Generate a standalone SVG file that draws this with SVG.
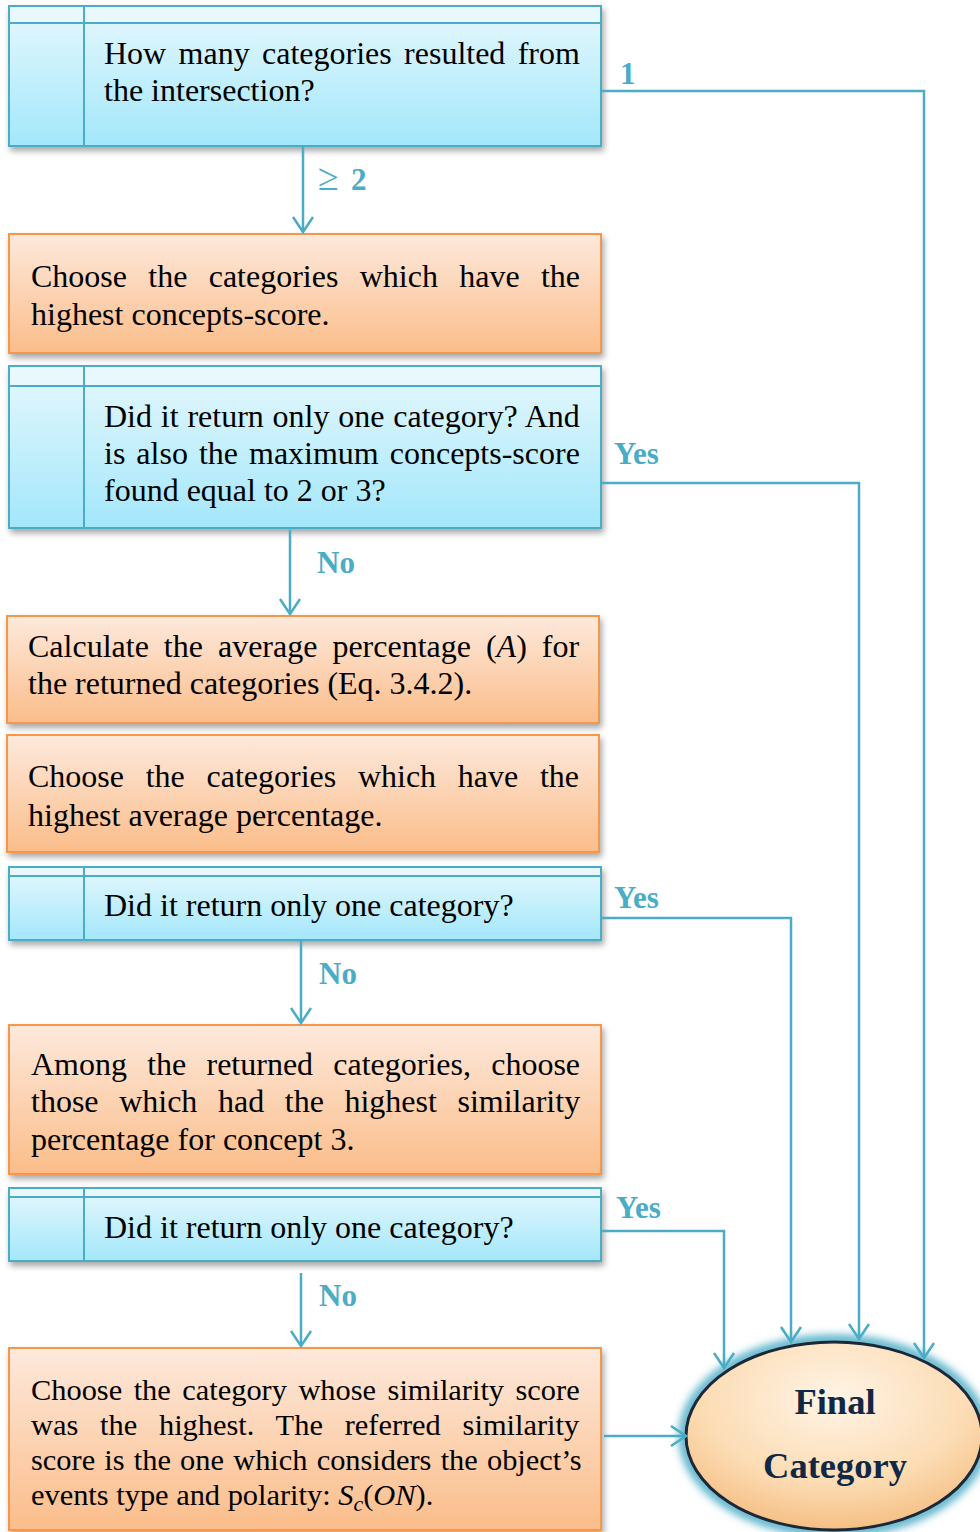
<svg xmlns="http://www.w3.org/2000/svg" width="980" height="1532" viewBox="0 0 980 1532">
  <defs>
    <linearGradient id="gBlue" x1="0" y1="0" x2="0" y2="1">
      <stop offset="0" stop-color="#e6f8fd"/>
      <stop offset="1" stop-color="#a3e7fb"/>
    </linearGradient>
    <linearGradient id="gOrange" x1="0" y1="0" x2="0" y2="1">
      <stop offset="0" stop-color="#fde9dc"/>
      <stop offset="1" stop-color="#fbbd8a"/>
    </linearGradient>
    <radialGradient id="gOval" cx="0.5" cy="0.3" r="0.75">
      <stop offset="0" stop-color="#fff4e6"/>
      <stop offset="0.6" stop-color="#fcdcb4"/>
      <stop offset="1" stop-color="#f4b97a"/>
    </radialGradient>
    <filter id="shadow" x="-5%" y="-10%" width="112%" height="130%">
      <feDropShadow dx="2" dy="4" stdDeviation="3" flood-color="#000" flood-opacity="0.35"/>
    </filter>
    <filter id="glow" x="-20%" y="-20%" width="140%" height="140%">
      <feGaussianBlur stdDeviation="4"/>
    </filter>
    <!-- open V arrowhead, tip along the path direction -->
    <marker id="arrow" viewBox="0 0 20 24" refX="18" refY="12" markerWidth="20" markerHeight="24" markerUnits="userSpaceOnUse" orient="auto">
      <path d="M3 2 L18 12 L3 22" fill="none" stroke="#4bacc6" stroke-width="2.5"/>
    </marker>
    <style>
      .blue { fill: url(#gBlue); stroke: #4bacc6; stroke-width: 2; filter: url(#shadow); }
      .orange { fill: url(#gOrange); stroke: #f79646; stroke-width: 2; filter: url(#shadow); }
      .div { stroke: #4bacc6; stroke-width: 2; fill: none; }
      .band { fill: #e8f8fd; }
      .t { font-family: "Liberation Serif", "Times New Roman", serif; font-size: 32px; fill: #000; }
      .tE { font-family: "Liberation Serif", "Times New Roman", serif; font-size: 30.4px; fill: #000; }
      .lab { font-family: "Liberation Serif", "Times New Roman", serif; font-size: 31px; font-weight: bold; fill: #4bacc6; }
      .conn { fill: none; stroke: #4bacc6; stroke-width: 2.5; }
      .oval { font-family: "Liberation Serif", "Times New Roman", serif; font-size: 36.5px; font-weight: bold; fill: #112844; text-anchor: middle; }
    </style>
  </defs>

  <rect width="980" height="1532" fill="#ffffff"/>

  <!-- Decision: number of categories -->
  <g id="q-count">
    <rect class="blue" x="9" y="6" width="592" height="140"/>
    <rect class="band" x="10" y="7" width="590" height="16"/>
    <line class="div" x1="9" y1="23" x2="601" y2="23"/>
    <line class="div" x1="84" y1="6" x2="84" y2="146"/>
    <text class="t" x="104" y="64" word-spacing="4.35">How many categories resulted from</text>
    <text class="t" x="104" y="101">the intersection?</text>
  </g>

  <!-- Step: highest concepts-score -->
  <g id="s-concepts">
    <rect class="orange" x="9" y="234" width="592" height="119"/>
    <text class="t" x="31" y="287" word-spacing="13.3">Choose the categories which have the</text>
    <text class="t" x="31" y="325">highest concepts-score.</text>
  </g>

  <!-- Decision: single category with score 2 or 3 -->
  <g id="q-single-score">
    <rect class="blue" x="9" y="366" width="592" height="162"/>
    <rect class="band" x="10" y="367" width="590" height="19"/>
    <line class="div" x1="9" y1="386" x2="601" y2="386"/>
    <line class="div" x1="84" y1="366" x2="84" y2="528"/>
    <text class="t" x="104" y="427" word-spacing="0.8">Did it return only one category? And</text>
    <text class="t" x="104" y="464" word-spacing="3">is also the maximum concepts-score</text>
    <text class="t" x="104" y="501">found equal to 2 or 3?</text>
  </g>

  <!-- Step: average percentage -->
  <g id="s-average">
    <rect class="orange" x="7" y="616" width="592" height="107"/>
    <text class="t" x="28" y="657" word-spacing="7">Calculate the average percentage (<tspan font-style="italic">A</tspan>) for</text>
    <text class="t" x="28" y="694">the returned categories (Eq. 3.4.2).</text>
  </g>

  <!-- Step: highest average percentage -->
  <g id="s-highest-average">
    <rect class="orange" x="7" y="735" width="592" height="117"/>
    <text class="t" x="28" y="787" word-spacing="13.7">Choose the categories which have the</text>
    <text class="t" x="28" y="826">highest average percentage.</text>
  </g>

  <!-- Decision: single category (1) -->
  <g id="q-single-1">
    <rect class="blue" x="9" y="867" width="592" height="73"/>
    <rect class="band" x="10" y="868" width="590" height="8"/>
    <line class="div" x1="9" y1="876" x2="601" y2="876"/>
    <line class="div" x1="84" y1="867" x2="84" y2="940"/>
    <text class="t" x="104" y="916">Did it return only one category?</text>
  </g>

  <!-- Step: concept 3 similarity -->
  <g id="s-concept3">
    <rect class="orange" x="9" y="1025" width="592" height="149"/>
    <text class="t" x="31" y="1075" word-spacing="12.2">Among the returned categories, choose</text>
    <text class="t" x="31" y="1112" word-spacing="12.6">those which had the highest similarity</text>
    <text class="t" x="31" y="1150">percentage for concept 3.</text>
  </g>

  <!-- Decision: single category (2) -->
  <g id="q-single-2">
    <rect class="blue" x="9" y="1188" width="592" height="73"/>
    <rect class="band" x="10" y="1189" width="590" height="8"/>
    <line class="div" x1="9" y1="1197" x2="601" y2="1197"/>
    <line class="div" x1="84" y1="1188" x2="84" y2="1261"/>
    <text class="t" x="104" y="1238">Did it return only one category?</text>
  </g>

  <!-- Step: similarity score S_c(ON) -->
  <g id="s-similarity">
    <rect class="orange" x="9" y="1348" width="592" height="182"/>
    <text class="tE" x="31" y="1400" word-spacing="3.9">Choose the category whose similarity score</text>
    <text class="tE" x="31" y="1435" word-spacing="14.2">was the highest. The referred similarity</text>
    <text class="tE" x="31" y="1470" word-spacing="1.6">score is the one which considers the object’s</text>
    <text class="tE" x="31" y="1505">events type and polarity: <tspan font-style="italic">S</tspan><tspan font-style="italic" font-size="22px" dy="6">c</tspan><tspan dy="-6">(</tspan><tspan font-style="italic">ON</tspan>).</text>
  </g>

  <!-- Terminal: final category -->
  <g id="final">
    <ellipse cx="834" cy="1436" rx="150" ry="96" fill="none" stroke="#4bacc6" stroke-width="10" filter="url(#glow)"/>
    <ellipse cx="834" cy="1436" rx="148" ry="94" fill="url(#gOval)" stroke="#1b2838" stroke-width="3"/>
    <text class="oval" x="835" y="1414">Final</text>
    <text class="oval" x="835" y="1478">Category</text>
  </g>

  <!-- Connectors -->
  <g id="connectors">
    <path class="conn" d="M601 91 H924 V1358" marker-end="url(#arrow)"/>
    <path class="conn" d="M303 147 V232" marker-end="url(#arrow)"/>
    <path class="conn" d="M601 483 H859 V1339" marker-end="url(#arrow)"/>
    <path class="conn" d="M290 530 V614" marker-end="url(#arrow)"/>
    <path class="conn" d="M601 918 H791 V1342" marker-end="url(#arrow)"/>
    <path class="conn" d="M301 941 V1023" marker-end="url(#arrow)"/>
    <path class="conn" d="M601 1231 H724 V1368" marker-end="url(#arrow)"/>
    <path class="conn" d="M301 1273 V1346" marker-end="url(#arrow)"/>
    <path class="conn" d="M604 1436 H686" marker-end="url(#arrow)"/>

    <text class="lab" x="620" y="84">1</text>
    <text class="lab" y="190"><tspan x="318" font-weight="normal" font-size="38px">≥</tspan><tspan x="351">2</tspan></text>
    <text class="lab" x="614" y="464">Yes</text>
    <text class="lab" x="317" y="573">No</text>
    <text class="lab" x="614" y="908">Yes</text>
    <text class="lab" x="319" y="984">No</text>
    <text class="lab" x="616" y="1218">Yes</text>
    <text class="lab" x="319" y="1306">No</text>
  </g>
</svg>
